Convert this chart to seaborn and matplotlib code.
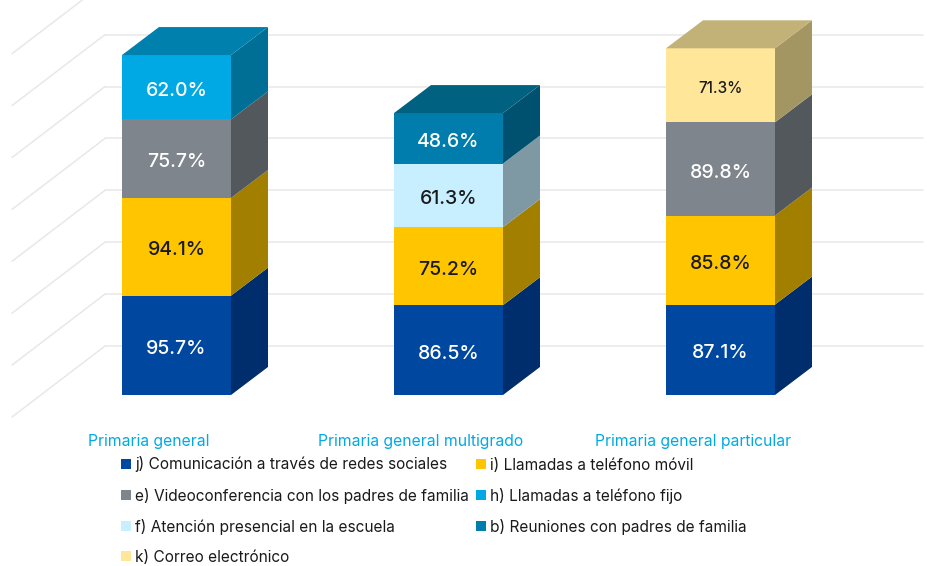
import matplotlib
matplotlib.use("Agg")
import matplotlib.pyplot as plt
import matplotlib.transforms as mtrans
from matplotlib.lines import Line2D
import pandas as pd
import seaborn as sns

categories = ["Primaria general", "Primaria general multigrado", "Primaria general particular"]
series_names = ["j) Comunicación a través de redes sociales", "i) Llamadas a teléfono móvil",
                "e) Videoconferencia con los padres de familia", "h) Llamadas a teléfono fijo",
                "f) Atención presencial en la escuela", "b) Reuniones con padres de familia",
                "k) Correo electrónico"]
col_general = [95.7, 94.1, 75.7, 62.0]
keys_general = ["j", "i", "e", "h"]
col_multigrado = [86.5, 75.2, 61.3, 48.6]
keys_multigrado = ["j", "i", "f", "b"]
col_particular = [87.1, 85.8, 89.8, 71.3]
keys_particular = ["j", "i", "e", "k"]
front = {"j": "#0047A0", "i": "#FFC600", "e": "#7F858C", "h": "#00A9E3", "f": "#C7EFFF", "b": "#007DAC", "k": "#FFE699"}
side = {"j": "#002D6B", "i": "#A37F00", "e": "#53585C", "h": "#006F96", "f": "#7F99A4", "b": "#00516F", "k": "#A39662"}
top = {"h": "#0080AC", "b": "#006280", "k": "#C2B277"}
text_col = {"j": "white", "i": "#1a1a1a", "e": "white", "h": "white", "f": "#1a1a1a", "b": "white", "k": "#1a1a1a"}
grid_values = [0, 50, 100, 150, 200, 250, 300, 350]

sns.set_theme(style="white")
plt.rcParams["font.family"] = ["Inter", "DejaVu Sans"]

W, H, Y0 = 928, 566, 395
PX_PER_UNIT = 1.038
X0, STEP = 176.5, 272.0
fig = plt.figure(figsize=(W / 100, H / 100), dpi=100)
ax = fig.add_axes([0, (H - Y0) / H, 1, Y0 / H])
BAR_W = 109 / STEP
DX, DY = 37 / STEP, 28 / PX_PER_UNIT
GRID_OFF = 49 / PX_PER_UNIT
xpx = lambda p: (p - X0) / STEP

columns = [(col_general, keys_general), (col_multigrado, keys_multigrado), (col_particular, keys_particular)]
for g in grid_values:
    y = g + GRID_OFF
    ax.plot([xpx(105), xpx(923)], [y, y], color="#E8E8E8", lw=1.1, zorder=0.5, clip_on=False if g < 350 else True)
    ax.plot([xpx(12), xpx(105)], [y - 71 / PX_PER_UNIT, y], color="#E8E8E8", lw=1.1, zorder=0.5, clip_on=False if g < 350 else True)

for i, (vals, keys) in enumerate(columns):
    bottom = 0.0
    for v, k in zip(vals, keys):
        df = pd.DataFrame({"cat": [categories[i]], "value": [v]})
        sns.barplot(data=df, x="cat", y="value", order=categories, bottom=bottom, width=BAR_W,
                    color=front[k], saturation=1, ax=ax, zorder=2, linewidth=0)
        r = i + BAR_W / 2
        ax.fill([r, r + DX, r + DX, r], [bottom, bottom + DY, bottom + v + DY, bottom + v],
                color=side[k], lw=0, zorder=2)
        size = 11 if k == "k" else 14
        ax.annotate(f"{v:.1f}%", (i, bottom + v / 2), xytext=(0, -2.6), textcoords="offset points",
                    ha="center", va="center", color=text_col[k], fontsize=size, fontweight=500, zorder=3)
        bottom += v
    l = i - BAR_W / 2
    ax.fill([l, l + DX, i + BAR_W / 2 + DX, i + BAR_W / 2],
            [bottom, bottom + DY, bottom + DY, bottom], color=top[keys[-1]], lw=0, zorder=2)

ax.set_xlim(xpx(0), xpx(W))
ax.set_ylim(0, Y0 / PX_PER_UNIT)
ax.set_xlabel("")
ax.set_ylabel("")
ax.set_yticks([])
ax.set_xticks(range(3))
ax.set_xticklabels(categories)
ax.tick_params(axis="x", length=0, pad=28.4, labelsize=11.3, labelcolor="#00A9E3")
shift = mtrans.ScaledTranslation(-27.5 / 100, 0, fig.dpi_scale_trans)
for t in ax.get_xticklabels():
    t.set_transform(t.get_transform() + shift)
for s in ax.spines.values():
    s.set_visible(False)
ax.patch.set_alpha(0)

keys_order = ["j", "i", "e", "h", "f", "b", "k"]
col1 = [0, 2, 4, 6]
col2 = [1, 3, 5]
handles = [Line2D([], [], ls="", marker="s", ms=7.8, mew=0, color=front[keys_order[n]]) for n in col1 + col2]
labels = [series_names[n] for n in col1 + col2]
fig.legend(handles, labels, ncols=2, loc="upper left", bbox_to_anchor=(118.5 / W, 1 - 456.5 / H),
           frameon=False, fontsize=11.1, labelcolor="#1a1a1a", handlelength=1, handletextpad=0.1,
           labelspacing=0.975, columnspacing=0.25, borderpad=0, borderaxespad=0)

fig.savefig("out.png", dpi=100, facecolor="white")
